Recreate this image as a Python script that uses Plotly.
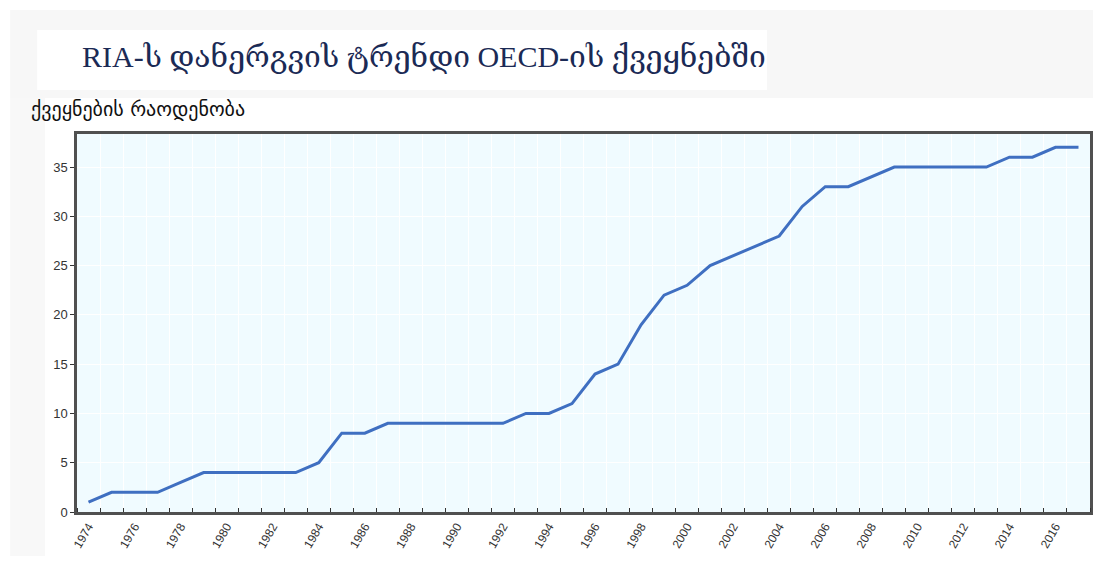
import plotly.graph_objects as go

years = list(range(1974, 2018))
countries = [1, 2, 2, 2, 3, 4, 4, 4, 4, 4,
             5, 8, 8, 9, 9, 9, 9, 9, 9, 10,
             10, 11, 14, 15, 19, 22, 23, 25, 26, 27,
             28, 31, 33, 33, 34, 35, 35, 35, 35, 35,
             36, 36, 37, 37]
label_years = list(range(1974, 2017, 2))
y_ticks = [0, 5, 10, 15, 20, 25, 30, 35]

title_text = "RIA-ს დანერგვის ტრენდი OECD-ის ქვეყნებში"
ylabel_text = "ქვეყნების რაოდენობა"

W, H = 1096, 563
L, R, T, B = 77, 1093, 134, 512
pw, ph = R - L, B - T


def px(x):
    return (x - L) / pw


def py(y):
    return (B - y) / ph


fig = go.Figure()
fig.add_trace(go.Scatter(
    x=years, y=countries, mode="lines",
    line=dict(color="#3F6FC1", width=3),
    hoverinfo="x+y", showlegend=False,
))

fig.update_layout(
    width=W, height=H, autosize=False,
    margin=dict(l=L, r=W - R, t=T, b=H - B, pad=0),
    paper_bgcolor="white",
    plot_bgcolor="#F0FBFF",
    font=dict(family="Liberation Sans, Arial, sans-serif", color="#333333"),
    xaxis=dict(
        range=[1973.5, 2017.5],
        tickmode="array", tickvals=label_years,
        ticktext=[str(v) for v in label_years],
        tickangle=-60, ticks="", showgrid=False, zeroline=False,
        tickfont=dict(size=12, color="#333333"),
        showline=True, mirror=True, linecolor="#505050", linewidth=2.5,
        minor=dict(tickmode="linear", tick0=1973.5, dtick=1, ticks="inside",
                   ticklen=4, tickcolor="#333333", showgrid=True,
                   gridcolor="white", gridwidth=1),
    ),
    yaxis=dict(
        range=[0, 38.35], tickmode="array", tickvals=y_ticks,
        ticks="outside", ticklen=4, tickcolor="#333333",
        showgrid=True, gridcolor="white", gridwidth=1.2, zeroline=False,
        tickfont=dict(size=13, color="#333333"),
        showline=True, mirror=True, linecolor="#505050", linewidth=2.5,
    ),
    shapes=[
        dict(type="rect", xref="paper", yref="paper", layer="below",
             x0=px(10), x1=px(1096), y0=py(98), y1=py(10),
             fillcolor="#F7F7F7", line=dict(width=0)),
        dict(type="rect", xref="paper", yref="paper", layer="below",
             x0=px(10), x1=px(45), y0=py(556), y1=py(98),
             fillcolor="#F8F8F8", line=dict(width=0)),
        dict(type="rect", xref="paper", yref="paper", layer="below",
             x0=px(37), x1=px(769), y0=py(90), y1=py(30),
             fillcolor="white", line=dict(width=0)),
    ],
    annotations=[
        dict(text=title_text, xref="paper", yref="paper",
             x=px(80), y=py(57), xanchor="left", yanchor="middle",
             showarrow=False,
             font=dict(family="Liberation Serif, DejaVu Serif, serif",
                       size=30, color="#1B2A55")),
        dict(text=ylabel_text, xref="paper", yref="paper",
             x=px(29), y=py(109), xanchor="left", yanchor="middle",
             showarrow=False,
             font=dict(family="DejaVu Sans, sans-serif", size=20,
                       color="#111111")),
    ],
)

fig.write_html("out.html",
               config={"displayModeBar": False},
               post_script="document.body.style.margin='0';"
                           "document.body.style.overflow='hidden';")
